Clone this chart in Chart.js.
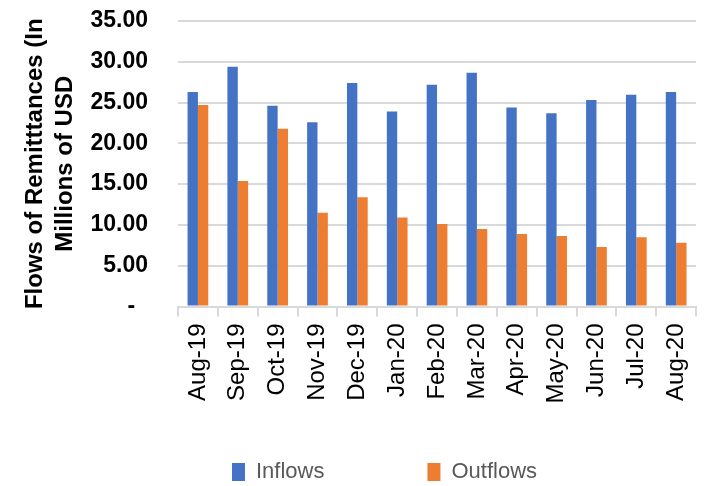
<!DOCTYPE html>
<html>
<head>
<meta charset="utf-8">
<script src="https://cdn.jsdelivr.net/npm/chart.js@4.4.0/dist/chart.umd.min.js"></script>
<style>
  html, body { margin: 0; padding: 0; background: #fff; }
  #wrap { width: 712px; height: 486px; }
</style>
</head>
<body>
<div id="wrap"><canvas id="c" width="712" height="486"></canvas></div>
<script>
const categories = ["Aug-19","Sep-19","Oct-19","Nov-19","Dec-19","Jan-20","Feb-20","Mar-20","Apr-20","May-20","Jun-20","Jul-20","Aug-20"];
const inflows  = [26.3, 29.4, 24.6, 22.6, 27.4, 23.9, 27.2, 28.65, 24.4, 23.7, 25.3, 25.95, 26.3];
const outflows = [24.7, 15.4, 21.8, 11.5, 13.4, 10.9, 10.1, 9.5, 8.9, 8.65, 7.3, 8.5, 7.8];
const seriesNames = ["Inflows", "Outflows"];
const yTitle = ["Flows of Remitttances (In", "Millions of USD"];

const GRID = "#d9d9d9";
const FONT = "'Liberation Sans', Arial, sans-serif";

const legendShift = {
  id: 'legendShift',
  afterLayout(chart) {
    const lg = chart.legend;
    if (lg) {
      lg.left += 29; lg.right += 29;
      lg.top = 358; lg.bottom = 486;
      lg.height = lg.bottom - lg.top;
    }
  }
};

new Chart(document.getElementById('c'), {
  type: 'bar',
  data: {
    labels: categories,
    datasets: [
      { label: seriesNames[0], data: inflows, backgroundColor: '#4472C4', borderWidth: 0,
        categoryPercentage: 0.52, barPercentage: 1.0 },
      { label: seriesNames[1], data: outflows, backgroundColor: '#ED7D31', borderWidth: 0,
        categoryPercentage: 0.52, barPercentage: 1.0 }
    ]
  },
  options: {
    responsive: false,
    animation: false,
    devicePixelRatio: 1,
    layout: { padding: { top: 21, right: 1, bottom: 0, left: 0 } },
    plugins: {
      tooltip: { enabled: false },
      legend: {
        position: 'bottom',
        maxHeight: 69.5,
        labels: {
          boxWidth: 13, boxHeight: 18, padding: 103,
          color: '#595959',
          font: { family: FONT, size: 22 }
        }
      }
    },
    scales: {
      x: {
        afterFit(scale) { scale.height = 110; },
        grid: { display: true, drawOnChartArea: false, drawTicks: true, tickLength: 10,
                color: GRID, lineWidth: 2, offset: true },
        border: { display: true, color: GRID, width: 2 },
        ticks: { minRotation: 90, maxRotation: 90, padding: 7, color: '#000',
                 font: { family: FONT, size: 24 } }
      },
      y: {
        min: 0, max: 35,
        afterFit(scale) { scale.width = 178; scale.paddingTop = 0; scale.paddingBottom = 0; },
        grid: { color: GRID, lineWidth: 2, drawTicks: false },
        border: { display: false },
        ticks: {
          stepSize: 5, padding: 30, color: '#000',
          font: { family: FONT, size: 23, weight: 'bold' },
          callback: (v) => v === 0 ? '-  ' : Number(v).toFixed(2)
        },
        title: {
          display: true, text: yTitle, color: '#000',
          padding: { top: 20, bottom: 0 },
          font: { family: FONT, size: 24, weight: 'bold', lineHeight: 1.25 }
        }
      }
    }
  },
  plugins: [legendShift]
});
</script>
</body>
</html>
